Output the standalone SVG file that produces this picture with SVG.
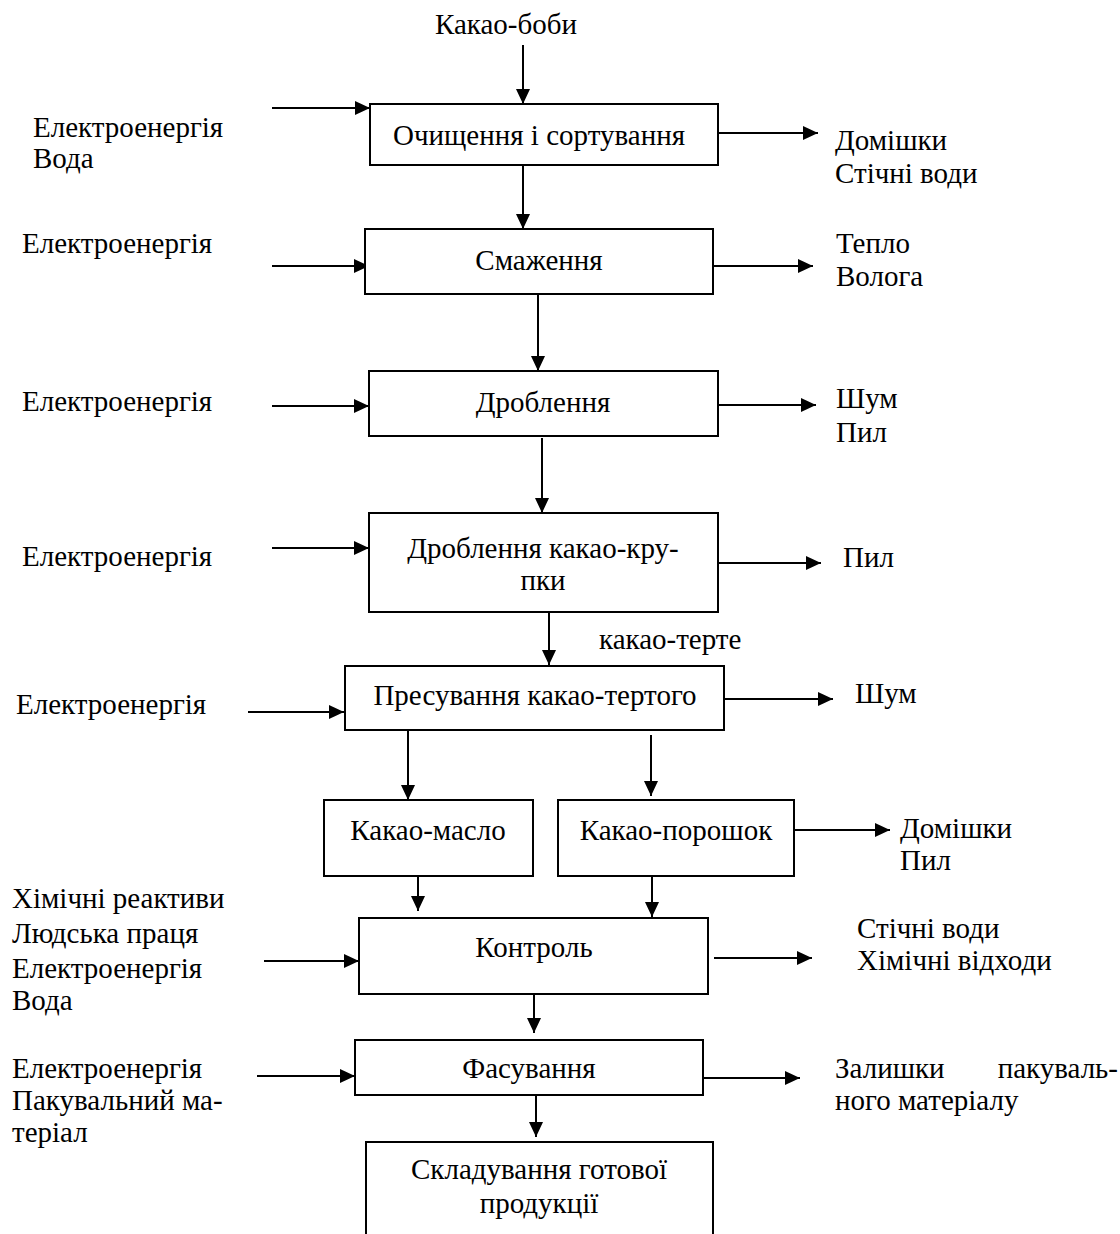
<svg xmlns="http://www.w3.org/2000/svg" width="1120" height="1234" viewBox="0 0 1120 1234">
<style>
text{font-family:"Liberation Serif","Times New Roman",serif;font-size:29px;fill:#000}
.c{text-anchor:middle}
.box{fill:#fff;stroke:#000;stroke-width:2}
.ln{stroke:#000;stroke-width:2;fill:none;marker-end:url(#ah)}
</style>
<defs>
<marker id="ah" markerUnits="userSpaceOnUse" markerWidth="16" markerHeight="14" refX="15" refY="7" orient="auto">
<path d="M0,0 L15,7 L0,14 z" fill="#000"/>
</marker>
</defs>
<rect width="1120" height="1234" fill="#fff"/>
<g id="connectors">
<line class="ln" x1="523" y1="45" x2="523" y2="104"/>
<line class="ln" x1="272" y1="108" x2="370" y2="108"/>
<line class="ln" x1="718" y1="133" x2="818" y2="133"/>
<line class="ln" x1="523" y1="165" x2="523" y2="229"/>
<line class="ln" x1="272" y1="266" x2="369" y2="266"/>
<line class="ln" x1="713" y1="266" x2="813" y2="266"/>
<line class="ln" x1="538" y1="294" x2="538" y2="371"/>
<line class="ln" x1="272" y1="406" x2="369" y2="406"/>
<line class="ln" x1="718" y1="405" x2="816" y2="405"/>
<line class="ln" x1="542" y1="438" x2="542" y2="513"/>
<line class="ln" x1="272" y1="548" x2="369" y2="548"/>
<line class="ln" x1="718" y1="563" x2="821" y2="563"/>
<line class="ln" x1="549" y1="612" x2="549" y2="665"/>
<line class="ln" x1="248" y1="712" x2="344" y2="712"/>
<line class="ln" x1="724" y1="699" x2="833" y2="699"/>
<line class="ln" x1="408" y1="730" x2="408" y2="800"/>
<line class="ln" x1="651" y1="735" x2="651" y2="796"/>
<line class="ln" x1="794" y1="830" x2="890" y2="830"/>
<line class="ln" x1="418" y1="876" x2="418" y2="911"/>
<line class="ln" x1="652" y1="876" x2="652" y2="917"/>
<line class="ln" x1="264" y1="961" x2="359" y2="961"/>
<line class="ln" x1="714" y1="958" x2="812" y2="958"/>
<line class="ln" x1="534" y1="992" x2="534" y2="1033"/>
<line class="ln" x1="257" y1="1076" x2="355" y2="1076"/>
<line class="ln" x1="703" y1="1078" x2="800" y2="1078"/>
<line class="ln" x1="536" y1="1095" x2="536" y2="1137"/>
</g>
<g id="input-top"><text class="c" x="506" y="34">Какао-боби</text></g>
<g id="n1"><rect class="box" x="370" y="104" width="348" height="61"/><text class="c" x="539" y="145">Очищення і сортування</text></g>
<g id="n2"><rect class="box" x="365" y="229" width="348" height="65"/><text class="c" x="539" y="270">Смаження</text></g>
<g id="n3"><rect class="box" x="369" y="371" width="349" height="65"/><text class="c" x="543" y="412">Дроблення</text></g>
<g id="n4"><rect class="box" x="369" y="513" width="349" height="99"/><text class="c" x="543" y="558">Дроблення какао-кру-</text><text class="c" x="543" y="590">пки</text></g>
<g id="lbl-terte"><text x="599" y="649">какао-терте</text></g>
<g id="n5"><rect class="box" x="345" y="666" width="379" height="64"/><text class="c" x="535" y="705">Пресування какао-тертого</text></g>
<g id="n6"><rect class="box" x="324" y="800" width="209" height="76"/><text class="c" x="428" y="840">Какао-масло</text></g>
<g id="n7"><rect class="box" x="558" y="800" width="236" height="76"/><text class="c" x="676" y="840">Какао-порошок</text></g>
<g id="n8"><rect class="box" x="359" y="918" width="349" height="76"/><text class="c" x="534" y="957">Контроль</text></g>
<g id="n9"><rect class="box" x="355" y="1040" width="348" height="55"/><text class="c" x="529" y="1078">Фасування</text></g>
<g id="n10"><rect class="box" x="366" y="1142" width="347" height="110"/><text class="c" x="539" y="1179">Складування готової</text><text class="c" x="539" y="1213">продукції</text></g>
<g id="inputs">
<text x="33" y="137">Електроенергія</text>
<text x="33" y="168">Вода</text>
<text x="22" y="253">Електроенергія</text>
<text x="22" y="411">Електроенергія</text>
<text x="22" y="566">Електроенергія</text>
<text x="16" y="714">Електроенергія</text>
<text x="12" y="908">Хімічні реактиви</text>
<text x="12" y="943">Людська праця</text>
<text x="12" y="978">Електроенергія</text>
<text x="12" y="1010">Вода</text>
<text x="12" y="1078">Електроенергія</text>
<text x="12" y="1110">Пакувальний ма-</text>
<text x="12" y="1142">теріал</text>
</g>
<g id="outputs">
<text x="835" y="150">Домішки</text>
<text x="835" y="183">Стічні води</text>
<text x="836" y="253">Тепло</text>
<text x="836" y="286">Волога</text>
<text x="836" y="408">Шум</text>
<text x="836" y="442">Пил</text>
<text x="843" y="567">Пил</text>
<text x="855" y="703">Шум</text>
<text x="900" y="838">Домішки</text>
<text x="900" y="870">Пил</text>
<text x="857" y="938">Стічні води</text>
<text x="857" y="970">Хімічні відходи</text>
<text x="835" y="1078">Залишки</text>
<text x="1118" y="1078" text-anchor="end">пакуваль-</text>
<text x="835" y="1110">ного матеріалу</text>
</g>
</svg>
